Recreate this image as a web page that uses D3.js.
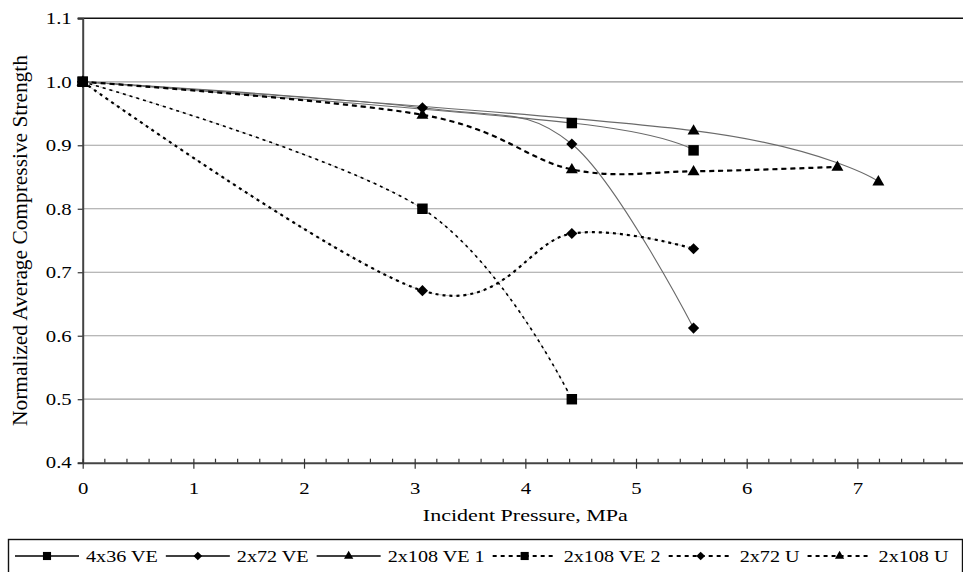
<!DOCTYPE html>
<html>
<head>
<meta charset="utf-8">
<script src="https://cdn.jsdelivr.net/npm/d3@7"></script>
</head>
<body style="margin:0;background:#fff">
<svg id="chart" width="963" height="572" style="display:block"></svg>
<script>

//---------------- data ----------------
let seriesNames = ['4x36 VE', '2x72 VE', '2x108 VE 1', '2x108 VE 2', '2x72 U', '2x108 U'];

let pressure4x36VE  = [0, 4.42, 5.52];
let strength4x36VE  = [1.0, 0.935, 0.892];

let pressure2x72VE  = [0, 3.07, 4.42, 5.52];
let strength2x72VE  = [1.0, 0.959, 0.902, 0.612];

let pressure2x108VE1 = [0, 5.52, 7.19];
let strength2x108VE1 = [1.0, 0.923, 0.843];

let pressure2x108VE2 = [0, 3.07, 4.42];
let strength2x108VE2 = [1.0, 0.80, 0.50];

let pressure2x72U   = [0, 3.07, 4.42, 5.52];
let strength2x72U   = [1.0, 0.671, 0.761, 0.737];

let pressure2x108U  = [0, 3.07, 4.42, 5.52, 6.82];
let strength2x108U  = [1.0, 0.948, 0.862, 0.859, 0.866];

let xTicks = [0, 1, 2, 3, 4, 5, 6, 7];
let yTicks = [0.4, 0.5, 0.6, 0.7, 0.8, 0.9, 1.0, 1.1];


//---------------- styles per series ----------------
let style = {
  '4x36 VE':    {sym: 'square',   solid: true},
  '2x72 VE':    {sym: 'diamond',  solid: true},
  '2x108 VE 1': {sym: 'triangle', solid: true},
  '2x108 VE 2': {sym: 'square',   solid: false, dash: '3,4', w: 1.6},
  '2x72 U':     {sym: 'diamond',  solid: false, dash: '3,4', w: 2.2},
  '2x108 U':    {sym: 'triangle', solid: false, dash: '5,4', w: 2.2}
};

const FONT = '"Liberation Serif"';
const SX = 1.26;   // the scanned text is wider than Times

let allX = [pressure4x36VE, pressure2x72VE, pressure2x108VE1, pressure2x108VE2, pressure2x72U, pressure2x108U];
let allY = [strength4x36VE, strength2x72VE, strength2x108VE1, strength2x108VE2, strength2x72U, strength2x108U];

let series = seriesNames.map(function(name, i) {
  return {name: name, points: allX[i].map(function(p, j) { return {x: p, y: allY[i][j]}; })};
});


let svg = d3.select('#chart');

let margin = {top: 18.3, left: 82.7, bottom: 109.3, right: -5};
let width = 963 - margin.left - margin.right,
    height = 572 - margin.top - margin.bottom;

let g = svg.append('g').attr('transform', 'translate(' + margin.left + ',' + margin.top + ')');

let x = d3.scaleLinear().domain([0, 8]).range([0, width]);
let y = d3.scaleLinear().domain([0.4, 1.1]).range([height, 0]);

// gridlines
g.append('g')
  .selectAll('line')
  .data(yTicks.filter(function(t) { return t > 0.45 && t < 1.05; }))
  .enter().append('line')
  .attr('x1', 0).attr('x2', width)
  .attr('y1', function(d) { return y(d); })
  .attr('y2', function(d) { return y(d); })
  .attr('stroke', '#a0a0a0')
  .attr('stroke-width', 1.2);

// top border
g.append('line')
  .attr('x1', -5).attr('x2', width)
  .attr('y1', y(1.1)).attr('y2', y(1.1))
  .attr('stroke', '#111').attr('stroke-width', 1.6);

// y axis
let yAxis = g.append('g')
  .call(d3.axisLeft(y).tickValues(yTicks).tickFormat(d3.format('.1f')).tickSize(5).tickPadding(6));
yAxis.attr('font-family', null);
yAxis.select('.domain').attr('stroke', '#444').attr('stroke-width', 2);
yAxis.selectAll('.tick line').attr('stroke', '#333').attr('stroke-width', 1.2);
yAxis.selectAll('text')
  .attr('x', -11 / SX)
  .attr('transform', 'scale(' + SX + ',1)')
  .style('font-family', FONT)
  .style('font-size', '16.5px')
  .attr('fill', '#000');

// x axis minor ticks (inside)
g.append('g')
  .attr('transform', 'translate(0,' + height + ')')
  .selectAll('line')
  .data(d3.range(0, 40).map(function(i) { return i * 0.2; }).filter(function(v) { return Math.abs(v - Math.round(v)) > 0.01; }))
  .enter().append('line')
  .attr('x1', function(d) { return x(d); })
  .attr('x2', function(d) { return x(d); })
  .attr('y1', 0).attr('y2', -4)
  .attr('stroke', '#333').attr('stroke-width', 1.2);

// x axis
let xAxis = g.append('g')
  .attr('transform', 'translate(0,' + height + ')')
  .call(d3.axisBottom(x).tickValues(xTicks).tickFormat(d3.format('d')).tickSizeInner(6).tickSizeOuter(0).tickPadding(14));
xAxis.attr('font-family', null);
xAxis.select('.domain').attr('stroke', '#444').attr('stroke-width', 2);
xAxis.selectAll('.tick line').attr('y1', -4).attr('stroke', '#333').attr('stroke-width', 1.2);
xAxis.selectAll('text')
  .attr('transform', 'scale(' + SX + ',1)')
  .style('font-family', FONT)
  .style('font-size', '16.5px')
  .attr('fill', '#000');

// axis titles
svg.append('text')
  .attr('transform', 'translate(' + (margin.left + x(4.0)) + ',521) scale(' + SX + ',1)')
  .style('text-anchor', 'middle')
  .style('font-family', FONT)
  .style('font-size', '17.5px')
  .text('Incident Pressure, MPa');

svg.append('text')
  .attr('transform', 'translate(27,' + (margin.top + height / 2) + ') rotate(-90) scale(1.07,1)')
  .style('text-anchor', 'middle')
  .style('font-family', FONT)
  .style('font-size', '20px')
  .text('Normalized Average Compressive Strength');


//---------------- lines ----------------
let line = d3.line()
  .x(function(d) { return x(d.x); })
  .y(function(d) { return y(d.y); })
  .curve(d3.curveCardinal.tension(0));

series.forEach(function(s) {
  let st = style[s.name];
  if (st.solid) {
    g.append('path').datum(s.points)
      .attr('d', line)
      .attr('fill', 'none')
      .attr('stroke', '#6a6a6a')
      .attr('stroke-width', 1.1);
  } else {
    g.append('path').datum(s.points)
      .attr('d', line)
      .attr('fill', 'none')
      .attr('stroke', '#b0b0b0')
      .attr('stroke-width', 0.7)
      .attr('stroke-dasharray', '6,3');
    g.append('path').datum(s.points)
      .attr('d', line)
      .attr('fill', 'none')
      .attr('stroke', '#000')
      .attr('stroke-width', st.w)
      .attr('stroke-dasharray', st.dash);
  }
});


//---------------- markers ----------------
function symbolPath(kind, scale) {
  if (kind === 'square') return d3.symbol().type(d3.symbolSquare).size(110 * scale)();
  if (kind === 'diamond') return d3.symbol().type(d3.symbolDiamond2).size(80 * scale)();
  return d3.symbol().type(d3.symbolTriangle).size(62 * scale)();
}

series.slice().reverse().forEach(function(s) {
  let st = style[s.name];
  g.append('g').selectAll('path')
    .data(s.points)
    .enter().append('path')
    .attr('d', symbolPath(st.sym, 1))
    .attr('transform', function(d) {
      let dy = st.sym === 'triangle' ? 0.5 : 0;
      return 'translate(' + x(d.x) + ',' + (y(d.y) + dy) + ')';
    })
    .attr('fill', '#000');
});


//---------------- legend ----------------
let legend = svg.append('g');

legend.append('rect')
  .attr('x', 8.5).attr('y', 539.5)
  .attr('width', 954).attr('height', 40)
  .attr('fill', 'none')
  .attr('stroke', '#111')
  .attr('stroke-width', 1.4);

let cursor = 15;
let ly = 556;
seriesNames.forEach(function(name) {
  let st = style[name];
  let item = legend.append('g');
  let lineLen = 64;
  item.append('line')
    .attr('x1', cursor).attr('x2', cursor + lineLen)
    .attr('y1', ly).attr('y2', ly)
    .attr('stroke', '#000')
    .attr('stroke-width', st.solid ? 1.3 : 1.8)
    .attr('stroke-dasharray', st.solid ? null : '4,4');
  item.append('path')
    .attr('d', symbolPath(st.sym, 0.6))
    .attr('transform', 'translate(' + (cursor + lineLen / 2) + ',' + ly + ')')
    .attr('fill', '#000');
  let t = item.append('text')
    .attr('transform', 'translate(' + (cursor + lineLen + 7) + ',' + (ly + 5.5) + ') scale(' + SX + ',1)')
    .style('font-family', FONT)
    .style('font-size', '16px')
    .text(name);
  cursor += lineLen + 7 + t.node().getComputedTextLength() * SX + 8;
});

</script>
</body>
</html>
